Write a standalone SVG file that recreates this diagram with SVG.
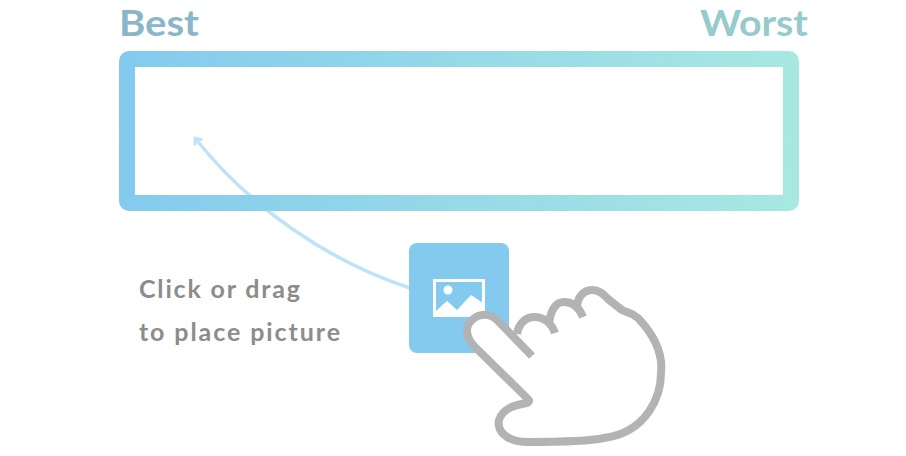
<svg xmlns="http://www.w3.org/2000/svg" width="906" height="456" viewBox="0 0 906 456">
<style>
.head{font-family:"Lato","Liberation Sans",sans-serif;font-weight:700;font-size:36px}
.note{font-family:"Lato","Liberation Sans",sans-serif;font-weight:700;font-size:25px;fill:#8c8c8c}
.hand{fill:none;stroke:#b3b3b3;stroke-width:8;stroke-linejoin:round}
</style>
<defs>
<linearGradient id="g" gradientUnits="userSpaceOnUse" x1="119" y1="100" x2="799" y2="160">
<stop offset="0" stop-color="#84caee"/><stop offset="1" stop-color="#a8e8e2"/>
</linearGradient>
<marker id="arr" markerUnits="userSpaceOnUse" markerWidth="14" markerHeight="14" refX="10" refY="6" orient="auto">
<path d="M4,1.500 L10,6 L4,10.500" fill="none" stroke="#bde4f6" stroke-width="2.800"/>
</marker>
</defs>
<rect width="906" height="456" fill="#fff"/>
<g id="best"><text class="head" x="119" y="36" fill="#8ab6c9" textLength="80" lengthAdjust="spacingAndGlyphs">Best</text></g>
<g id="worst"><text class="head" x="700" y="36" fill="#95cbcd" textLength="108" lengthAdjust="spacingAndGlyphs">Worst</text></g>
<g id="connectors"><path d="M410,288 C330,262 250,208 195,138" fill="none" stroke="#bde4f6" stroke-width="3.500" marker-end="url(#arr)"/></g>
<g id="frame"><rect x="127" y="59" width="664" height="144" rx="2" fill="none" stroke="url(#g)" stroke-width="16"/></g>
<g id="picture">
<rect x="409" y="243" width="100" height="110" rx="8" fill="#84caee"/>
<rect x="434.500" y="280.500" width="49" height="35" fill="none" stroke="#fff" stroke-width="3"/>
<circle cx="448" cy="290" r="4.500" fill="#fff"/>
<path d="M436,311 L447,301 L457,310 L471,295 L483,303 L483,314 L436,314 Z" fill="#fff"/>
</g>
<g id="note">
<text class="note" x="139" y="298" textLength="161" lengthAdjust="spacing">Click or drag</text>
<text class="note" x="139" y="341" textLength="201" lengthAdjust="spacing">to place picture</text>
</g>
<g id="hand">
<path d="M475,347 C466,338 464,326 472,320 C482,312 490,313 498,321 L516,336 C519,322 527,317 534,317 L549,322 C551,310 556,302 564,302 L577,308 C577,297 584,290 592,290 C600,290 604,295 608,299 L622,310 C628,313 632,313 638,318 C655,336 663,355 661,373 C661,395 648,432 604,438 C585,442 550,442 528,442 C505,442 497,430 499,420 C503,408 515,405 528,400 Z" fill="#fff"/>
<path class="hand" d="M532,356 L498,321 C490,313 480,313 472,320 C464,327 466,338 475,347 L528,399 C530,401 529,402 527,403 C515,405 503,408 499,420 C497,430 505,442 528,442 C550,442 585,442 604,438 C648,432 661,395 661,373 C663,355 655,336 638,318 C632,313 628,313 622,310 L608,299 C604,295 600,290 592,290 C584,290 577,297 577,308"/>
<path class="hand" d="M517,334 C519,322 527,317 534,317 C543,317 551,322 555,333"/>
<path class="hand" d="M549,323 C551,310 556,302 564,302 C573,302 579,307 583,317"/>
</g>
</svg>
